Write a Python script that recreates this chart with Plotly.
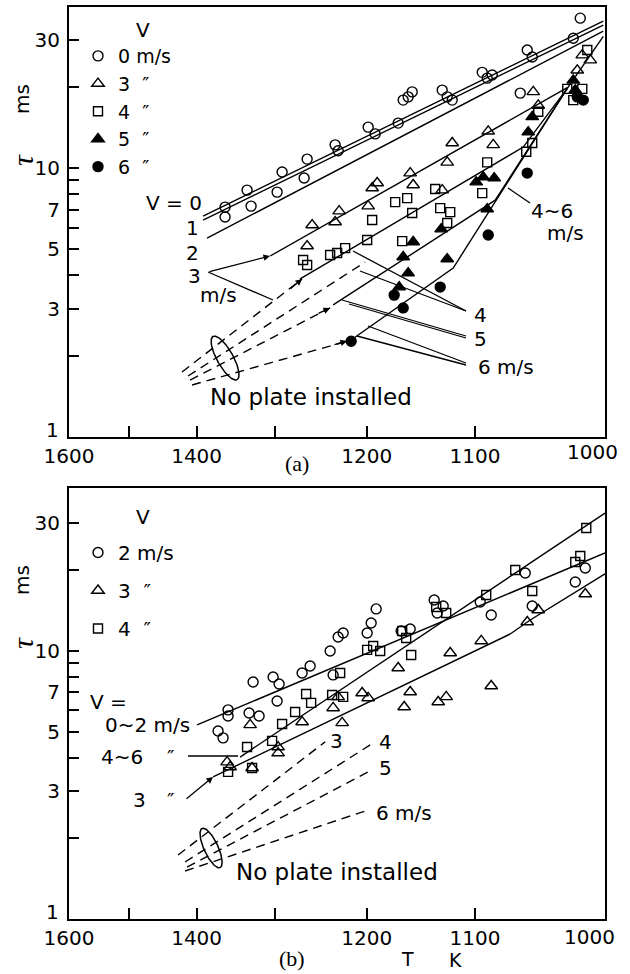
import numpy as np
import plotly.graph_objects as go

W, H = 630, 974
FONT = "DejaVu Sans"

# ---------------- axis ticks ----------------
T_ticks = [1600, 1500, 1400, 1300, 1200, 1100, 1000]
T_ticklabels = ["1600", "", "1400", "", "1200", "1100", ""]   # "1000" and "1" set as text below
tau_ticks = [1, 2, 3, 4, 5, 6, 7, 8, 9, 10, 20, 30]
tau_ticklabels = ["", "", "3", "", "5", "", "7", "", "", "10", "", "30"]

# x values are stored as 1000/T (T in K); tau in ms
# ---------------- panel (a): plate installed ----------------
a_v0_invT = [0.7342, 0.7342, 0.7496, 0.7524, 0.7706, 0.7741, 0.7895, 0.7916, 0.8112, 0.8133,
             0.8343, 0.8392, 0.8553, 0.8588, 0.8623, 0.8651, 0.8861, 0.8896, 0.8931, 0.9141,
             0.9176, 0.9211, 0.9456, 0.9491, 0.9778, 0.9827, 0.9407]
a_v0_tau = [7.16, 6.58, 8.28, 7.22, 8.14, 9.67, 9.18, 10.8, 12.2, 11.6,
            14.2, 13.4, 14.7, 17.9, 18.4, 19.2, 19.5, 18.4, 17.9, 22.7,
            21.6, 22.2, 27.5, 25.9, 30.4, 36.1, 19.0]

a_v3_invT = [0.7916, 0.7951, 0.8112, 0.8140, 0.8343, 0.8371, 0.8406, 0.8637, 0.8658, 0.8861,
             0.8896, 0.8931, 0.9183, 0.9218, 0.9498, 0.9533, 0.9806, 0.9841, 0.9897]
a_v3_tau = [5.13, 6.14, 6.30, 6.92, 7.22, 8.43, 8.80, 9.58, 8.65, 8.28,
            10.5, 12.4, 13.7, 12.2, 19.2, 17.1, 23.1, 26.3, 25.2]

a_v4_invT = [0.7888, 0.7916, 0.8077, 0.8126, 0.8182, 0.8336, 0.8371, 0.8532, 0.8616, 0.8651,
             0.8581, 0.8812, 0.8847, 0.8917, 0.8896, 0.9141, 0.9176, 0.9449, 0.9491, 0.9533,
             0.9736, 0.9778, 0.9841, 0.9876]
a_v4_tau = [4.55, 4.36, 4.75, 4.83, 5.04, 5.40, 6.41, 7.47, 7.73, 6.81,
            5.35, 8.36, 7.10, 6.86, 6.25, 8.07, 10.5, 11.5, 12.4, 16.2,
            19.7, 17.9, 19.7, 27.5]

a_v5_invT = [0.8560, 0.8588, 0.8623, 0.8658, 0.8854, 0.8896, 0.9099, 0.9148, 0.9225, 0.9176,
             0.9463, 0.9491, 0.9778, 0.9792]
a_v5_tau = [3.61, 4.67, 4.07, 5.31, 5.93, 4.59, 8.87, 9.26, 9.18, 7.04,
            13.6, 15.5, 21.2, 19.5]

a_v6_invT = [0.8224, 0.8525, 0.8588, 0.8847, 0.9183, 0.9456, 0.9806, 0.9848]
a_v6_tau = [2.27, 3.37, 3.02, 3.61, 5.64, 9.58, 18.4, 17.9]

# fitted lines, plate installed (solid)
a_fit_v0_invT = [0.7188, 0.9988]; a_fit_v0_tau = [6.63, 35.2]
a_fit_v1_invT = [0.7188, 0.9988]; a_fit_v1_tau = [6.41, 34.0]
a_fit_v2_invT = [0.7216, 0.9988]; a_fit_v2_tau = [5.49, 32.3]
a_fit_v3_invT = [0.7657, 0.9736]; a_fit_v3_tau = [4.71, 19.9]
a_fit_v4_invT = [0.7867, 0.9428, 0.9736]; a_fit_v4_tau = [3.87, 11.97, 19.8]
a_fit_v5_invT = [0.8098, 0.9232, 0.9736]; a_fit_v5_tau = [3.10, 7.60, 19.8]
a_fit_v6_invT = [0.8231, 0.8938, 0.9736]; a_fit_v6_tau = [2.31, 4.25, 19.8]
a_fit_tail_invT = [0.9736, 0.9988]; a_fit_tail_tau = [19.8, 30.9]

# no plate installed (dashed)
a_np_v3_invT = [0.7041, 0.7881]; a_np_v3_tau = [1.745, 3.87]
a_np_v4_invT = [0.7083, 0.8322]; a_np_v4_tau = [1.686, 4.47]
a_np_v5_invT = [0.7097, 0.8077]; a_np_v5_tau = [1.629, 3.02]
a_np_v6_invT = [0.7111, 0.8182]; a_np_v6_tau = [1.561, 2.26]

# ---------------- panel (b) ----------------
b_v2_invT = [0.7293, 0.7328, 0.7363, 0.7363, 0.7510, 0.7580, 0.7538, 0.7678, 0.7720, 0.7706,
             0.7881, 0.7937, 0.8077, 0.8133, 0.8168, 0.8098, 0.8336, 0.8364, 0.8399, 0.8574,
             0.8637, 0.8805, 0.8868, 0.8826, 0.9127, 0.9204, 0.9442, 0.9491, 0.9792, 0.9862]
b_v2_tau = [5.03, 4.74, 6.03, 5.72, 5.87, 5.72, 7.66, 8.00, 7.53, 6.51,
            8.28, 8.79, 10.0, 11.28, 11.67, 8.14, 11.67, 12.72, 14.35, 11.87,
            12.08, 15.50, 14.72, 13.86, 15.23, 13.62, 19.54, 14.72, 18.09, 20.40]

b_v3_invT = [0.7356, 0.7377, 0.7531, 0.7517, 0.7713, 0.7713, 0.7881, 0.8098, 0.8133, 0.8161,
             0.8301, 0.8343, 0.8553, 0.8595, 0.8637, 0.8833, 0.8889, 0.8917, 0.9134, 0.9204,
             0.9456, 0.9533, 0.9862]
b_v3_tau = [3.85, 3.69, 3.66, 5.30, 4.38, 4.16, 5.43, 6.13, 6.74, 5.39,
            6.97, 6.68, 8.64, 6.18, 7.03, 6.45, 6.74, 9.83, 10.90, 7.40,
            12.83, 14.22, 16.32]

b_v4_invT = [0.7363, 0.7496, 0.7531, 0.7671, 0.7741, 0.7832, 0.7909, 0.7944, 0.8091, 0.8147,
             0.8168, 0.8336, 0.8378, 0.8427, 0.8581, 0.8609, 0.8644, 0.8819, 0.8889, 0.9169,
             0.9372, 0.9491, 0.9792, 0.9827, 0.9869]
b_v4_tau = [3.54, 4.38, 3.66, 4.62, 5.34, 5.92, 6.91, 6.40, 6.85, 8.28,
            6.74, 10.09, 10.44, 10.0, 11.87, 11.18, 9.66, 14.59, 13.86, 16.18,
            20.05, 16.74, 21.48, 22.62, 28.77]

b_fit_02_invT = [0.7146, 1.0]; b_fit_02_tau = [5.30, 23.2]
b_fit_46_invT = [0.7447, 1.0]; b_fit_46_tau = [4.02, 32.7]
b_fit_3_invT = [0.7258, 0.9337, 0.9477, 1.0]; b_fit_3_tau = [3.39, 11.57, 13.05, 19.4]

b_np_v3_invT = [0.7013, 0.8042]; b_np_v3_tau = [1.733, 4.58]
b_np_v4_invT = [0.7062, 0.8357]; b_np_v4_tau = [1.632, 4.46]
b_np_v5_invT = [0.7076, 0.8357]; b_np_v5_tau = [1.563, 3.57]
b_np_v6_invT = [0.7062, 0.8343]; b_np_v6_tau = [1.510, 2.55]

# ellipses marking the "no plate" bundle: centre and semi-axis vectors in (1000/T, log10 tau)
a_ell_center = (0.7342, 1.966); a_ell_major = (0.00843, -0.0803); a_ell_minor = (0.00493, 0.01457)
b_ell_center = (0.7244, 1.840); b_ell_major = (0.0063, -0.0731); b_ell_minor = (0.00448, 0.0108)

# ---------------- figure ----------------
fig = go.Figure()
BLK = "black"
LW = 1.4


def add_pts(x, y, name, symbol, size, xa, ya, leg):
    fig.add_trace(go.Scatter(
        x=x, y=y, mode="markers", name=name, xaxis=xa, yaxis=ya, legend=leg,
        legendgroup=name + leg,
        marker=dict(symbol=symbol, size=size, color=BLK, line=dict(color=BLK, width=1.4)),
        showlegend=True, cliponaxis=False))


def add_line(x, y, xa, ya, dash="solid", width=LW):
    fig.add_trace(go.Scatter(
        x=x, y=y, mode="lines", xaxis=xa, yaxis=ya, showlegend=False,
        line=dict(color=BLK, width=width, dash=dash), hoverinfo="skip"))


def add_ellipse(center, major, minor, xa, ya):
    t = np.linspace(0, 2 * np.pi, 120)
    xs = center[0] + major[0] * np.cos(t) + minor[0] * np.sin(t)
    ls = np.log10(center[1]) + major[1] * np.cos(t) + minor[1] * np.sin(t)
    add_line(xs, 10 ** ls, xa, ya, width=1.5)


DASH = "9px,6px"
for xs, ys in [(a_fit_v0_invT, a_fit_v0_tau), (a_fit_v1_invT, a_fit_v1_tau),
               (a_fit_v2_invT, a_fit_v2_tau), (a_fit_v3_invT, a_fit_v3_tau),
               (a_fit_v4_invT, a_fit_v4_tau), (a_fit_v5_invT, a_fit_v5_tau),
               (a_fit_v6_invT, a_fit_v6_tau), (a_fit_tail_invT, a_fit_tail_tau)]:
    add_line(xs, ys, "x", "y")
for xs, ys in [(a_np_v3_invT, a_np_v3_tau), (a_np_v4_invT, a_np_v4_tau),
               (a_np_v5_invT, a_np_v5_tau), (a_np_v6_invT, a_np_v6_tau)]:
    add_line(xs, ys, "x", "y", dash=DASH)
add_ellipse(a_ell_center, a_ell_major, a_ell_minor, "x", "y")

for xs, ys in [(b_fit_02_invT, b_fit_02_tau), (b_fit_46_invT, b_fit_46_tau),
               (b_fit_3_invT, b_fit_3_tau)]:
    add_line(xs, ys, "x2", "y2")
for xs, ys in [(b_np_v3_invT, b_np_v3_tau), (b_np_v4_invT, b_np_v4_tau),
               (b_np_v5_invT, b_np_v5_tau), (b_np_v6_invT, b_np_v6_tau)]:
    add_line(xs, ys, "x2", "y2", dash=DASH)
add_ellipse(b_ell_center, b_ell_major, b_ell_minor, "x2", "y2")

SP = "\u00a0"
DITTO = "\u2033"
add_pts(a_v0_invT, a_v0_tau, "0 m/s", "circle-open", 10, "x", "y", "legend")
add_pts(a_v3_invT, a_v3_tau, "3" + SP * 2 + DITTO, "triangle-up-open", 11, "x", "y", "legend")
add_pts(a_v4_invT, a_v4_tau, "4" + SP * 2 + DITTO, "square-open", 9, "x", "y", "legend")
add_pts(a_v5_invT, a_v5_tau, "5" + SP * 2 + DITTO, "triangle-up", 11, "x", "y", "legend")
add_pts(a_v6_invT, a_v6_tau, "6" + SP * 2 + DITTO, "circle", 10, "x", "y", "legend")

add_pts(b_v2_invT, b_v2_tau, "2 m/s", "circle-open", 10, "x2", "y2", "legend2")
add_pts(b_v3_invT, b_v3_tau, "3" + SP * 2 + DITTO, "triangle-up-open", 11, "x2", "y2", "legend2")
add_pts(b_v4_invT, b_v4_tau, "4" + SP * 2 + DITTO, "square-open", 9, "x2", "y2", "legend2")

# ---------------- axes ----------------
inv_ticks = [1000.0 / T for T in T_ticks]
xcommon = dict(range=[0.625, 1.0], tickvals=inv_ticks, ticktext=T_ticklabels,
               showline=True, linecolor=BLK, linewidth=2.2, mirror=True,
               ticks="inside", ticklen=11, tickwidth=1.6, tickcolor=BLK,
               showgrid=False, zeroline=False, automargin=False,
               tickfont=dict(family=FONT, size=20, color=BLK),
               domain=[69 / W, 605 / W])
ycommon = dict(type="log", tickvals=tau_ticks, ticktext=tau_ticklabels,
               showline=True, linecolor=BLK, linewidth=2.2, mirror=True,
               ticks="inside", ticklen=10, tickwidth=1.6, tickcolor=BLK,
               showgrid=False, zeroline=False, ticklabelstandoff=3, automargin=False,
               tickfont=dict(family=FONT, size=20, color=BLK))

fig.update_layout(
    width=W, height=H, margin=dict(l=0, r=0, t=0, b=0, autoexpand=False),
    paper_bgcolor="white", plot_bgcolor="white",
    xaxis=dict(**xcommon, anchor="y"),
    yaxis=dict(**ycommon, range=[0, 1.599], domain=[1 - 437 / H, 1 - 7 / H], anchor="x"),
    xaxis2=dict(**xcommon, anchor="y2"),
    yaxis2=dict(**ycommon, range=[0, 1.608], domain=[1 - 919 / H, 1 - 488 / H], anchor="x2"),
    legend=dict(x=78 / W, y=1 - 37 / H, xanchor="left", yanchor="top",
                bgcolor="rgba(0,0,0,0)", font=dict(family=FONT, size=19, color=BLK),
                tracegroupgap=0, itemsizing="trace"),
    legend2=dict(x=78 / W, y=1 - 533 / H, xanchor="left", yanchor="top",
                 bgcolor="rgba(0,0,0,0)", font=dict(family=FONT, size=20, color=BLK),
                 tracegroupgap=9, itemsizing="trace"),
    showlegend=True,
)


def P(x, y):
    return x / W, 1 - y / H


annotations = []


def label(x, y, text, size=20, family=FONT, angle=0, xanchor="center"):
    px_, py_ = P(x, y)
    annotations.append(dict(x=px_, y=py_, xref="paper", yref="paper", text=text,
                            showarrow=False, textangle=angle, xanchor=xanchor, yanchor="middle",
                            font=dict(family=family, size=size, color=BLK)))


def arrow(tx, ty, hx, hy):
    px_, py_ = P(hx, hy)
    annotations.append(dict(x=px_, y=py_, xref="paper", yref="paper", text="",
                            showarrow=True, axref="pixel", ayref="pixel",
                            ax=tx - hx, ay=ty - hy, arrowhead=2, arrowsize=1,
                            arrowwidth=1.3, arrowcolor=BLK, standoff=0, startstandoff=0))


shapes = []


def leader(x0, y0, x1, y1):
    a0, b0 = P(x0, y0)
    a1, b1 = P(x1, y1)
    shapes.append(dict(type="line", xref="paper", yref="paper", x0=a0, y0=b0, x1=a1, y1=b1,
                       line=dict(color=BLK, width=1.3)))


TAU = "<i>\u03c4</i>"
# panel (a) texts
label(143, 30, "V")
label(174, 203, "V = 0")
label(192, 228, "1")
label(192, 253, "2")
label(194, 276, "3")
label(218, 295, "m/s")
label(552, 211, "4~6")
label(565, 233, "m/s")
label(481, 315, "4")
label(481, 339, "5")
label(506, 367, "6 m/s")
label(311, 397, "No plate installed", size=23)
label(297, 463, "(a)", size=22, family="Liberation Serif")
label(52, 430, "1")
label(592, 452, "1000")
label(22, 99, "ms", angle=-90)
label(22, 160, TAU, size=30, family="Liberation Serif", angle=-90)

leader(208, 272, 273, 300)
arrow(208, 272, 270, 256)
leader(530, 203, 508, 188)
leader(466, 311, 353, 251)
leader(466, 311, 360, 271)
leader(466, 336, 342, 300)
leader(466, 338, 349, 304)
leader(466, 363, 368, 326)
leader(466, 365, 357, 336)
arrow(289, 290, 302, 279)
arrow(317, 314, 330, 308)
arrow(333, 345, 347, 341)

# panel (b) texts
label(143, 517, "V")
label(108, 702, "V =")
label(147, 725, "0~2 m/s")
label(122, 757, "4~6")
label(170, 757, DITTO)
label(139, 800, "3")
label(170, 800, DITTO)
label(336, 741, "3")
label(385, 742, "4")
label(385, 768, "5")
label(404, 813, "6 m/s")
label(337, 872, "No plate installed", size=23)
label(292, 958, "(b)", size=22, family="Liberation Serif")
label(407, 959, "T", size=19)
label(455, 960, "K", size=19)
label(52, 912, "1")
label(589, 937, "1000")
label(22, 580, "ms", angle=-90)
label(22, 643, TAU, size=30, family="Liberation Serif", angle=-90)

leader(188, 756, 238, 756)
arrow(185, 800, 213, 777)

fig.update_layout(annotations=annotations, shapes=shapes)
fig.write_html("out.html", config={"displayModeBar": False},
               post_script="document.body.style.margin='0px';document.body.style.overflow='hidden';")
